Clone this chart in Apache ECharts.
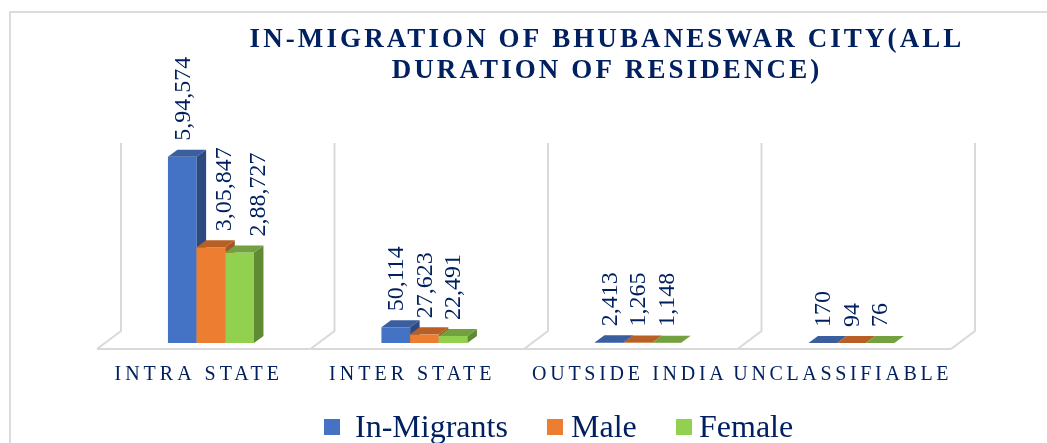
<!DOCTYPE html>
<html>
<head>
<meta charset="utf-8">
<style>html,body{margin:0;padding:0;background:#fff}#main{width:1047px;height:443px}</style>
<script src="https://cdn.jsdelivr.net/npm/echarts@6/dist/echarts.min.js"></script>
</head>
<body>
<div id="main"></div>
<script>
const categories = ['INTRA STATE', 'INTER STATE', 'OUTSIDE INDIA', 'UNCLASSIFIABLE'];
const inMigrants = [594574, 50114, 2413, 170];
const male = [305847, 27623, 1265, 94];
const female = [288727, 22491, 1148, 76];
const titleText = 'IN-MIGRATION OF BHUBANESWAR CITY(ALL\nDURATION OF RESIDENCE)';

const NAVY = '#002060', SERIF = '"Liberation Serif", serif';
const DX = 9.5, DY = 7;            // bar depth
const FLOOR_DX = 24, FLOOR_DY = 18; // floor depth
const FIRST_GROUP_LABEL_SHIFT = [0, 13, 18]; // labels moved clear of the tall neighbour
const CATEGORY_LABEL_PAD = [26, 26, 18, 19];

// letter spacing for the title and category labels (by font size)
const spacing = { 27: '3.1px', 20: '4px' };
const spacingByText = { UNCLASSIFIABLE: '3.65px', 'OUTSIDE INDIA': '3.7px' };
const origFill = CanvasRenderingContext2D.prototype.fillText;
CanvasRenderingContext2D.prototype.fillText = function (t, x, y, m) {
  const s = /([\d.]+)px/.exec(this.font);
  this.letterSpacing = spacingByText[t] || (s && spacing[parseFloat(s[1])]) || '0px';
  return m === undefined ? origFill.call(this, t, x, y) : origFill.call(this, t, x, y, m);
};

function wallItem(params, api) {
  const i = api.value(0), c = api.coord([i, 0]), topY = api.coord([i, 600000])[1];
  const band = api.size([1, 0])[0];
  const fy = c[1] + 6, by = fy - FLOOR_DY;
  const line = { stroke: '#d9d9d9', lineWidth: 2, fill: null };
  const wall = (fx) => ({ type: 'polyline', shape: { points: [[fx + FLOOR_DX, topY - 12], [fx + FLOOR_DX, by], [fx, fy]] }, style: line });
  const fl = c[0] - band / 2 - 8;
  const kids = [wall(fl), { type: 'line', shape: { x1: fl, y1: fy, x2: fl + band, y2: fy }, style: line }];
  if (i === categories.length - 1) kids.push(wall(fl + band));
  return { type: 'group', children: kids };
}

function barItem(idx, front, top, side) {
  return function (params, api) {
    const i = api.value(0), v = api.value(1);
    const c0 = api.coord([i, 0]), c1 = api.coord([i, v]);
    const w = api.size([1, 0])[0] * 0.1343;
    const x0 = c0[0] + (idx - 1.5) * w - 0.8, x1 = x0 + w, b = c0[1], t = c1[1];
    const label = v.toLocaleString('en-IN');
    const shift = i === 0 ? FIRST_GROUP_LABEL_SHIFT[idx] : 0;
    return { type: 'group', children: [
      { type: 'rect', shape: { x: x0, y: t, width: w, height: b - t }, style: { fill: front } },
      { type: 'polygon', shape: { points: [[x1, b], [x1 + DX, b - DY], [x1 + DX, t - DY], [x1, t]] }, style: { fill: side } },
      { type: 'polygon', shape: { points: [[x0, t], [x0 + DX, t - DY], [x1 + DX, t - DY], [x1, t]] }, style: { fill: top } },
      { type: 'text', x: x0 + w / 2 + 1 + shift, y: t - DY - 9, rotation: Math.PI / 2,
        style: { text: label, align: 'left', verticalAlign: 'middle', fill: NAVY, font: '24px ' + SERIF } }
    ] };
  };
}
const asPairs = (a) => a.map((v, i) => [i, v]);
const barSeries = (name, vals, idx, front, top, side) => ({
  type: 'custom', name, data: asPairs(vals), itemStyle: { color: front },
  encode: { x: 0, y: 1 }, renderItem: barItem(idx, front, top, side), z: 3 + idx
});
const legendItem = (name, left, pad) => ({
  data: [name], left, top: 413, padding: 0, orient: 'horizontal', icon: 'rect', itemWidth: 16, itemHeight: 16,
  formatter: '{t|{name}}',
  textStyle: { color: NAVY, fontFamily: SERIF, fontSize: 32,
    rich: { t: { color: NAVY, fontFamily: SERIF, fontSize: 32, padding: [4, 0, 0, pad] } } }
});

const chart = echarts.init(document.getElementById('main'), null, { renderer: 'canvas' });
chart.setOption({
  animation: false,
  backgroundColor: '#fff',
  title: { text: titleText, left: 607, top: 25, padding: 0, textAlign: 'center',
    textStyle: { color: NAVY, fontFamily: SERIF, fontWeight: 'bold', fontSize: 27, lineHeight: 31 } },
  legend: [legendItem('In-Migrants', 324, 10), legendItem('Male', 547, 3), legendItem('Female', 676, 2)],
  grid: { left: 105, width: 854, top: 155, height: 188 },
  xAxis: { type: 'category',
    data: categories.map((c, i) => ({ value: c, textStyle: { padding: [0, CATEGORY_LABEL_PAD[i], 0, 0] } })),
    axisLine: { show: false }, axisTick: { show: false }, splitLine: { show: false },
    axisLabel: { interval: 0, margin: 22, color: NAVY, fontFamily: SERIF, fontSize: 20, hideOverlap: false } },
  yAxis: { type: 'value', min: 0, max: 600000, show: false },
  graphic: [{ type: 'polyline', silent: true, z: -1, shape: { points: [[10, 443], [10, 12], [1047, 12]] }, style: { stroke: '#dcdcdc', lineWidth: 2, fill: null } }],
  series: [
    { type: 'custom', silent: true, data: categories.map((c, i) => [i, 0]), encode: { x: 0, y: 1 }, renderItem: wallItem, z: 1 },
    barSeries('In-Migrants', inMigrants, 0, '#4472c4', '#3a5e9e', '#2c4a80'),
    barSeries('Male', male, 1, '#ed7d31', '#b85f26', '#a65522'),
    barSeries('Female', female, 2, '#92d050', '#74a13f', '#618a34')
  ]
});
</script>
</body>
</html>
